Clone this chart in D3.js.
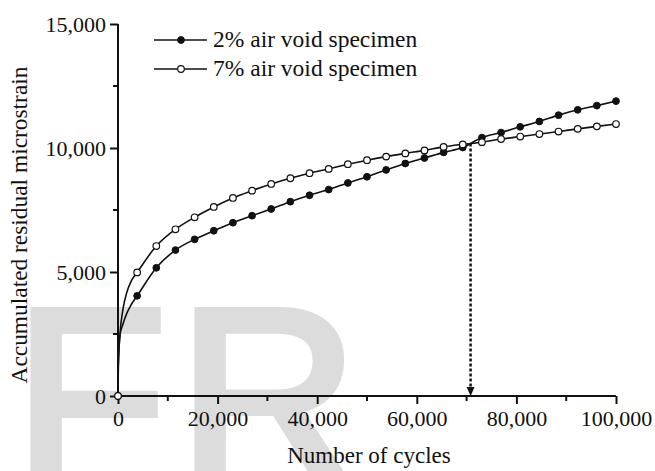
<!DOCTYPE html>
<html>
<head>
<meta charset="utf-8">
<script src="https://cdn.jsdelivr.net/npm/d3@7/dist/d3.min.js"></script>
<style>
  html, body { margin: 0; padding: 0; background: #fff; }
  svg { display: block; }
  text { font-family: "Liberation Serif", "Times New Roman", serif; fill: #111; }
</style>
</head>
<body>
<svg id="chart" width="655" height="471"></svg>
<script>
// ---- data ----
const markerCycles = [0, 3846, 7692, 11538, 15385, 19231, 23077, 26923, 30769, 34615, 38462, 42308, 46154, 50000, 53846, 57692, 61538, 65385, 69231, 73077, 76923, 80769, 84615, 88462, 92308, 96154, 100000];
const void2Values = [0, 4040, 5170, 5885, 6317, 6664, 6987, 7270, 7541, 7836, 8094, 8324, 8591, 8841, 9116, 9375, 9597, 9823, 10020, 10420, 10623, 10853, 11071, 11325, 11540, 11709, 11891];
const void7Values = [0, 4984, 6046, 6721, 7206, 7622, 7985, 8280, 8551, 8781, 8983, 9157, 9346, 9508, 9653, 9783, 9904, 10045, 10146, 10235, 10360, 10461, 10562, 10663, 10772, 10873, 10966];
// early (unmarked) readings along the steep start of the curves
const earlyCycles = [60, 400, 1000, 1800, 2700];
const early2Values = [1200, 2450, 2900, 3350, 3700];
const early7Values = [1200, 2500, 3500, 4200, 4650];
const seriesNames = ["2% air void specimen", "7% air void specimen"];
const xTicks = [0, 20000, 40000, 60000, 80000, 100000];
const xMinorTicks = [10000, 30000, 50000, 70000, 90000];
const yTicks = [0, 5000, 10000, 15000];
const yMinorTicks = [2500, 7500, 12500];
const crossCycles = [70800];
const crossValue = [10180];
const watermarkLetters = ["F", "R"];

// ---- layout ----
const svg = d3.select("#chart");
const mLeft = 118, mRight = 616, mTop = 24, mBottom = 396;
const x = d3.scaleLinear().domain([0, 100000]).range([mLeft, mRight]);
const y = d3.scaleLinear().domain([0, 15000]).range([mBottom, mTop]);
const fmt = d3.format(",");

// watermark
const wm = svg.append("g");
wm.selectAll("text").data(watermarkLetters).join("text")
  .attr("x", (d, i) => i === 0 ? 14 : 178)
  .attr("y", 484)
  .style("font-family", "'Liberation Sans', Arial, sans-serif")
  .style("font-size", "250px")
  .style("fill", "#dcdcdc")
  .style("stroke", "#dcdcdc")
  .style("stroke-width", 8)
  .text(d => d);

// axes
const xAxis = d3.axisBottom(x).tickValues(xTicks).tickFormat(fmt).tickSize(8).tickPadding(6);
const gx = svg.append("g").attr("transform", `translate(0,${mBottom})`).call(xAxis);
const yAxis = d3.axisLeft(y).tickValues(yTicks).tickFormat(fmt).tickSize(8).tickPadding(4);
const gy = svg.append("g").attr("transform", `translate(${mLeft},0)`).call(yAxis);
[gx, gy].forEach(g => {
  g.select(".domain").attr("stroke", "#111").attr("stroke-width", 2);
  g.selectAll(".tick line").attr("stroke", "#111").attr("stroke-width", 2);
  g.selectAll(".tick text").style("font-family", "'Liberation Serif', serif").style("font-size", "22px").attr("fill", "#1a1a1a");
});
gx.select(".domain").attr("d", `M${mLeft},0H${mRight}`);
gy.select(".domain").attr("d", `M0,${mBottom}V${mTop}`);
gy.selectAll(".tick text").attr("dy", "0.35em");

// minor ticks
svg.append("g").selectAll("line").data(xMinorTicks).join("line")
  .attr("x1", d => x(d)).attr("x2", d => x(d))
  .attr("y1", mBottom).attr("y2", mBottom + 5)
  .attr("stroke", "#111").attr("stroke-width", 2);
svg.append("g").selectAll("line").data(yMinorTicks).join("line")
  .attr("y1", d => y(d)).attr("y2", d => y(d))
  .attr("x1", mLeft).attr("x2", mLeft - 5)
  .attr("stroke", "#111").attr("stroke-width", 2);

// axis titles
svg.append("text").attr("x", 369).attr("y", 463)
  .attr("text-anchor", "middle").style("font-size", "23px").text("Number of cycles");
svg.append("text").attr("transform", `translate(27,225) rotate(-90)`)
  .attr("text-anchor", "middle").style("font-size", "23.4px").text("Accumulated residual microstrain");

// build series
function build(vals, early) {
  const pts = markerCycles.map((c, i) => ({ c, v: vals[i], m: true }));
  earlyCycles.forEach((c, i) => pts.push({ c, v: early[i], m: false }));
  pts.sort((a, b) => a.c - b.c);
  return pts;
}
const s2 = build(void2Values, early2Values);
const s7 = build(void7Values, early7Values);
const line = d3.line().x(d => x(d.c)).y(d => y(d.v)).curve(d3.curveMonotoneX);

// dashed arrow at crossing
const ax = x(crossCycles[0]);
svg.append("line").attr("x1", ax).attr("x2", ax)
  .attr("y1", y(crossValue[0])).attr("y2", mBottom - 7)
  .attr("stroke", "#111").attr("stroke-width", 2.5).attr("stroke-dasharray", "3,2");
svg.append("path").attr("d", `M${ax - 4},${mBottom - 9}L${ax + 4},${mBottom - 9}L${ax},${mBottom}Z`).attr("fill", "#111");

[s2, s7].forEach(s => {
  svg.append("path").datum(s).attr("d", line).attr("fill", "none").attr("stroke", "#111").attr("stroke-width", 1.6);
});
svg.append("g").selectAll("circle").data(s2.filter(d => d.m)).join("circle")
  .attr("cx", d => x(d.c)).attr("cy", d => y(d.v)).attr("r", 3.4)
  .attr("fill", "#111").attr("stroke", "#111").attr("stroke-width", 1);
svg.append("g").selectAll("circle").data(s7.filter(d => d.m)).join("circle")
  .attr("cx", d => x(d.c)).attr("cy", d => y(d.v)).attr("r", 3.3)
  .attr("fill", "#fff").attr("stroke", "#111").attr("stroke-width", 1.2);

// legend
const leg = svg.append("g");
seriesNames.forEach((name, i) => {
  const ly = 40 + i * 29;
  leg.append("line").attr("x1", 154).attr("x2", 207).attr("y1", ly).attr("y2", ly)
    .attr("stroke", "#111").attr("stroke-width", 1.6);
  leg.append("circle").attr("cx", 181).attr("cy", ly).attr("r", i === 0 ? 3.4 : 3.3)
    .attr("fill", i === 0 ? "#111" : "#fff").attr("stroke", "#111").attr("stroke-width", i === 0 ? 1 : 1.2);
  leg.append("text").attr("x", 213).attr("y", ly + 7).style("font-size", "23.5px").text(name);
});
</script>
</body>
</html>
